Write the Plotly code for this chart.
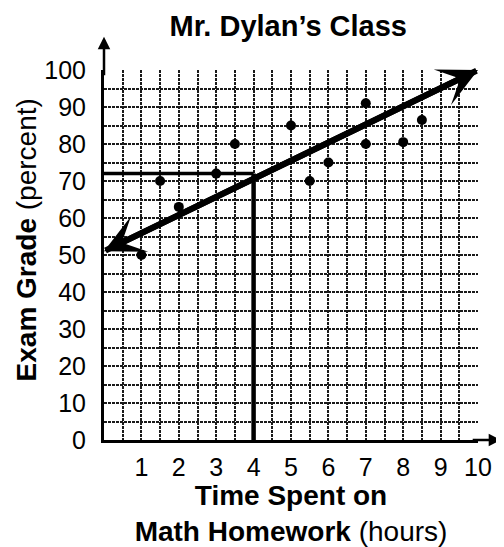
import plotly.graph_objects as go

# Data
hours = [1, 1.5, 2, 3, 3.5, 5, 5.5, 6, 7, 7, 8, 8.5]
grades = [50, 70, 63, 72, 80, 85, 70, 75, 91, 80, 80.5, 86.5]

trend_x = [0, 10]
trend_y = [51, 100]

read_x = [0, 4, 4]
read_y = [72, 72, 0]

x_ticks = [1, 2, 3, 4, 5, 6, 7, 8, 9, 10]
y_ticks = [0, 10, 20, 30, 40, 50, 60, 70, 80, 90, 100]

FONT = "Liberation Sans, Arial, sans-serif"

fig = go.Figure()

# reading lines (horizontal and vertical)
fig.add_trace(go.Scatter(x=read_x[:2], y=read_y[:2], mode="lines",
                         line=dict(color="black", width=3.5), hoverinfo="skip"))
fig.add_trace(go.Scatter(x=read_x[1:], y=read_y[1:], mode="lines",
                         line=dict(color="black", width=4.5), hoverinfo="skip"))

# data points
fig.add_trace(go.Scatter(x=hours, y=grades, mode="markers",
                         marker=dict(color="black", size=10), hoverinfo="skip"))

# trend line with arrows at both ends
for (x0, y0, x1, y1) in [(trend_x[0], trend_y[0], trend_x[1], trend_y[1]),
                         (trend_x[1], trend_y[1], trend_x[0], trend_y[0])]:
    fig.add_annotation(x=x1, y=y1, ax=x0, ay=y0, xref="x", yref="y",
                       axref="x", ayref="y", showarrow=True, arrowhead=3,
                       arrowsize=1.1, arrowwidth=6, arrowcolor="black", text="")

# axis arrows
fig.add_annotation(x=1.062, y=0, xref="paper", yref="paper", ax=-30, ay=0,
                   showarrow=True, arrowhead=2, arrowsize=1, arrowwidth=2.5,
                   arrowcolor="black", text="")
fig.add_annotation(x=0, y=1.09, xref="paper", yref="paper", ax=0, ay=40,
                   showarrow=True, arrowhead=2, arrowsize=1, arrowwidth=2.5,
                   arrowcolor="black", text="")

# y-axis title
fig.add_annotation(x=-0.208, y=0.54, xref="paper", yref="paper",
                   text="<b>Exam Grade</b> (percent)", textangle=-90,
                   showarrow=False, xanchor="center", yanchor="middle",
                   font=dict(size=28, family=FONT, color="black"))

GRID = dict(gridcolor="#1a1a1a", gridwidth=1.5, griddash="3px,1px")

fig.update_layout(
    width=496, height=539, autosize=False,
    margin=dict(l=96, r=26, t=62, b=107, autoexpand=False),
    plot_bgcolor="white", paper_bgcolor="white",
    showlegend=False,
    font=dict(family=FONT, color="black", size=25),
    title=dict(text="<b>Mr. Dylan’s Class</b>", x=0.565, xanchor="center",
               y=0.966, yanchor="middle", font=dict(size=29, family=FONT)),
    xaxis=dict(
        range=[0, 10], tickmode="array", tickvals=x_ticks,
        ticktext=[str(v) for v in x_ticks], ticks="", ticklabelstandoff=3,
        showgrid=True, **GRID, automargin=False,
        minor=dict(dtick=0.5, showgrid=True, **GRID),
        showline=True, linecolor="black", linewidth=2.5, zeroline=False,
        title=dict(text="<b>Time Spent on</b><br><b>Math Homework</b> (hours)",
                   font=dict(size=28, family=FONT), standoff=7),
    ),
    yaxis=dict(
        range=[0, 100], tickmode="array", tickvals=y_ticks,
        ticktext=[str(v) for v in y_ticks], ticks="", ticklabelstandoff=10,
        showgrid=True, **GRID, automargin=False,
        minor=dict(dtick=5, showgrid=True, **GRID),
        showline=True, linecolor="black", linewidth=3, zeroline=False,
    ),
)

fig.write_html("out.html")
